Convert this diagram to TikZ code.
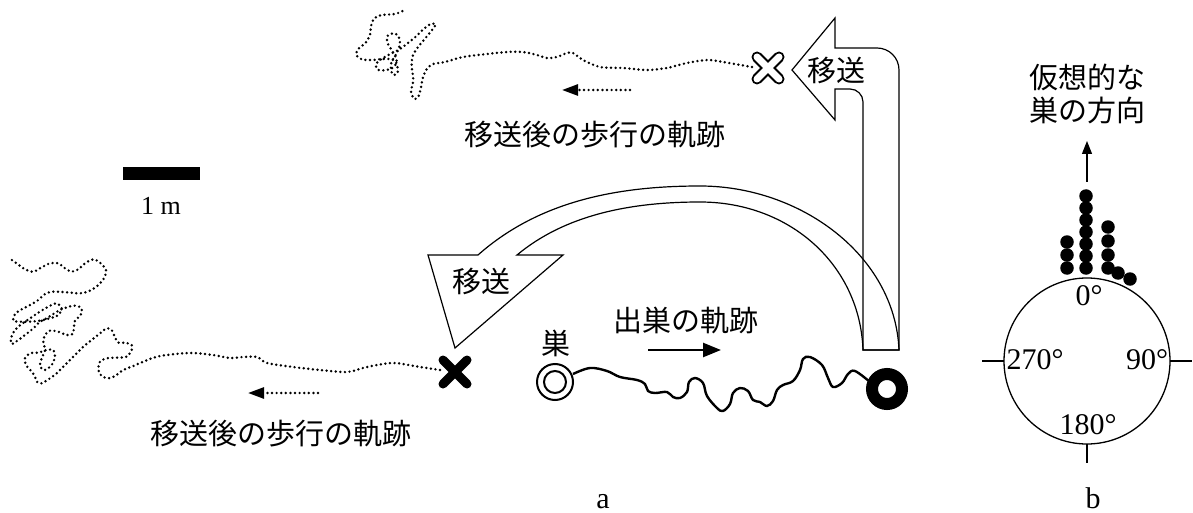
\documentclass[tikz,border=0pt]{standalone}
\usepackage{fontspec}
\setmainfont{Liberation Serif}
\newfontfamily\jpfont{Noto Sans CJK JP}
\usetikzlibrary{arrows.meta}
\usetikzlibrary{positioning, calc}

\begin{document}
\begin{tikzpicture}[x=1pt,y=-1pt,
    jp/.style={font=\jpfont\fontsize{29}{32}\selectfont, inner sep=0pt},
    deg/.style={font=\fontsize{30}{34}\selectfont, inner sep=0pt},
    trail/.style={line width=2.7pt, dash pattern=on 0pt off 4.6pt, line cap=round},
    hist/.style={circle, fill=black, inner sep=0pt, minimum size=13.5pt},
    outline/.style={line width=1.2pt, line join=miter}]

        \useasboundingbox (0,0) rectangle (1193,513);

        % walks after displacement
        \begin{scope}[shift={(345,0)}, scale=1/3]
        \draw[trail] plot[smooth] coordinates {(1221,201) (1134,186) (1086,180) (1026,189) (966,204) (906,210) (834,204) (765,201) (714,180) (684,159) (666,159) (636,171) (606,174) (576,165) (534,156) (486,156) (426,162) (354,171) (300,186) (264,192) (245,208) (233,235) (228,262) (220,290) (208,297) (198,275) (205,240) (200,200) (203,168) (220,140) (245,110) (265,85) (272,72) (255,73) (235,88) (210,112) (185,132) (160,150) (130,165) (105,180) (92,195) (100,210) (125,210) (148,200) (155,180) (143,155) (128,130) (127,108) (145,100) (160,108) (165,130) (155,160) (140,185) (138,210) (145,225) (158,218) (155,190) (140,178) (115,177) (80,180) (50,178) (33,163) (42,145) (62,128) (75,105) (78,78) (88,55) (110,45) (150,42) (180,30)};
        \end{scope}
        \begin{scope}[shift={(0,250)}, scale=1/3]
        \draw[trail] plot[smooth] coordinates {(1320,360) (1260,351) (1179,339) (1101,351) (1041,366) (960,360) (879,351) (801,339) (771,321) (729,321) (690,324) (639,315) (570,309) (480,318) (430,335) (400,348) (370,360) (345,378) (325,385) (305,378) (295,360) (300,335) (320,325) (350,323) (380,320) (395,300) (395,285) (375,278) (355,278) (345,262) (335,240) (320,235) (300,250) (275,270) (250,290) (230,310) (210,330) (190,350) (170,370) (150,385) (125,400) (110,395) (105,380) (95,365) (78,345) (75,325) (90,310) (115,308) (140,300) (160,300) (165,320) (155,345) (135,360) (120,350) (125,325) (135,300) (130,275) (135,255) (150,242) (175,245) (200,255) (218,252) (222,230) (225,212) (242,195) (245,175) (225,167) (200,172) (180,180) (160,192) (140,205) (120,215) (100,235) (75,255) (55,270) (35,282) (33,265) (45,240) (65,222) (90,205) (115,188) (145,170) (170,160) (185,175) (175,195) (150,205) (120,212) (90,215) (60,215) (40,212) (45,192) (65,178) (90,165) (115,150) (135,132) (160,125) (200,127) (240,130) (270,122) (295,105) (312,85) (318,60) (300,38) (280,28) (255,40) (235,58) (215,65) (195,55) (175,40) (150,40) (125,52) (100,65) (75,58) (50,40) (28,25)};
        \end{scope}

        % release points
        \coordinate (relA) at (768,68);
        \coordinate (relB) at (455,372);
        \draw[line width=11pt, line cap=round] ($(relA)+(-11,-11)$) -- ($(relA)+(11,11)$) ($(relA)+(-11,11)$) -- ($(relA)+(11,-11)$);
        \draw[line width=7pt, line cap=round, white] ($(relA)+(-11,-11)$) -- ($(relA)+(11,11)$) ($(relA)+(-11,11)$) -- ($(relA)+(11,-11)$);
        \draw[line width=9pt, line cap=round] ($(relB)+(-12,-12)$) -- ($(relB)+(12,12)$) ($(relB)+(-12,12)$) -- ($(relB)+(12,-12)$);

        % direction of the walks
        \coordinate (dirA) at (630,90); \coordinate (tipA) at (562,90);
        \coordinate (dirB) at (318,393); \coordinate (tipB) at (248,393);
        \draw[trail, -{Triangle[length=16pt,width=11pt]}] (dirA) -- (tipA);
        \draw[trail, -{Triangle[length=16pt,width=11pt]}] (dirB) -- (tipB);

        \node[jp] (walkA) at (595,135) {移送後の歩行の軌跡};
        \node[jp] (walkB) at (281,434) {移送後の歩行の軌跡};

        % displacement arrows
        \draw[outline] (863,350) -- (863,102) .. controls (863,94.8) and (857.2,89) .. (850,89) -- (835,89) -- (835,120) -- (792,70) -- (835,18) -- (835,48) -- (877,48) .. controls (889.2,48) and (899,57.8) .. (899,70) -- (899,350) -- cycle;
        \draw[outline] (863,350) .. controls (860,265) and (790,202) .. (700,202) .. controls (630,202) and (565,215) .. (517,255) -- (563,255) -- (455,348) -- (428,255) -- (478,255) .. controls (540,200) and (620,186) .. (700,186) .. controls (800,186) and (895,255) .. (899,350) -- cycle;
        \node[jp] (moveA) at (836,70) {移送};
        \node[jp] (moveB) at (481,281) {移送};

        % outbound track
        \coordinate (nest) at (555,382);
        \coordinate (catch) at (887,389);
        \draw[line width=2pt] (nest) circle (18) (nest) circle (11);
        \draw[line width=2.4pt] plot[smooth, tension=0.6] coordinates {(573,374) (590,368) (607,371) (620,377) (637,380) (645,384) (648,391) (655,393) (667,392) (673,397) (680,398) (687,392) (689,382) (695,378) (703,383) (707,396) (717,408) (723,411) (730,404) (733,393) (740,388) (748,391) (753,400) (760,402) (767,406) (773,401) (777,390) (783,385) (793,381) (800,370) (803,359) (810,357) (822,365) (828,378) (833,387) (842,383) (848,374) (855,371) (870,382)};
        \draw[line width=12pt] (catch) circle (15);
        \node[jp] (nestlbl) at (556,343) {巣};
        \node[jp] (outlbl) at (686,320) {出巣の軌跡};
        \coordinate (outA) at (648,350); \coordinate (outB) at (721,350);
        \draw[line width=2.5pt, -{Triangle[length=18pt,width=14pt]}] (outA) -- (outB);

        % scale
        \fill (123,167) rectangle (200,180);
        \node[deg, anchor=base, font=\fontsize{26}{30}\selectfont] (scl) at (161,214) {1 m};

        % circular plot
        \coordinate (ctr) at (1087,361);
        \draw[line width=1.3pt] (ctr) circle (83);
        \draw[line width=1.3pt] (982,361) -- (1004,361) (1170,361) -- (1192,361) (1087,444) -- (1087,463);
        \foreach \y in {196,208,...,268} \node[hist] at (1086,\y) {};
        \foreach \y in {242,255,268} \node[hist] at (1067,\y) {};
        \foreach \y in {227,241,255,268} \node[hist] at (1108,\y) {};
        \node[hist] (d1) at (1118,273) {};
        \node[hist] (d2) at (1130,279) {};
        \coordinate (north) at (1087,182); \coordinate (nhead) at (1087,141);
        \draw[line width=1.2pt, -{Triangle[length=13pt,width=10pt]}] (north) -- (nhead);
        \node[deg] (d0) at (1089,296) {0°};
        \node[deg] (d270) at (1035,360) {270°};
        \node[deg] (d90) at (1147,360) {90°};
        \node[deg] (d180) at (1088,425) {180°};
        \node[jp] (virt1) at (1087,77) {仮想的な};
        \node[jp] (virt2) at (1087,110) {巣の方向};

        \node[deg, anchor=base] (pa) at (603,508) {a};
        \node[deg, anchor=base] (pb) at (1093,508) {b};

\end{tikzpicture}
\end{document}
